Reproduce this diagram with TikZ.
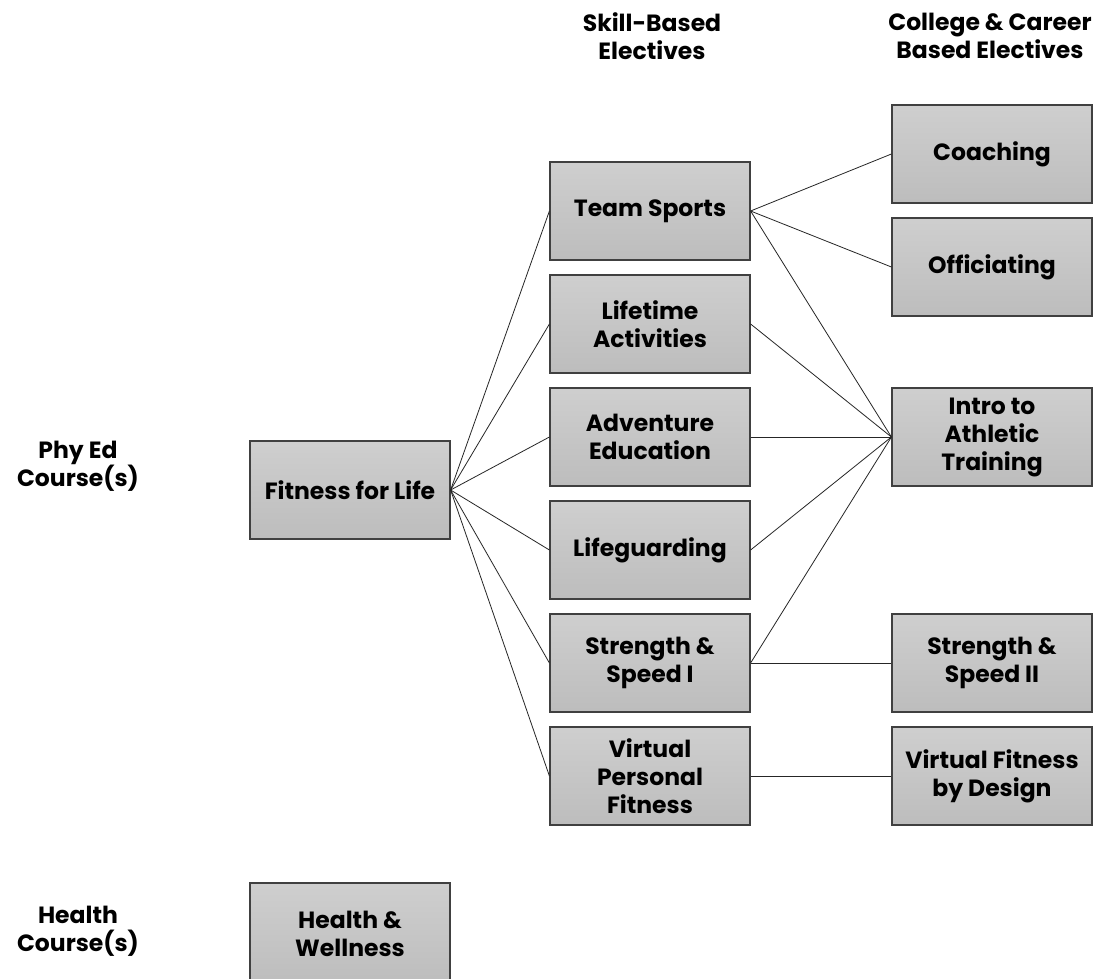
\documentclass[tikz,border=0pt]{standalone}
\usepackage{fontspec}
\setmainfont{Poppins}
\begin{document}
\begin{tikzpicture}[x=1pt,y=-1pt,
  box/.style={draw=black!75, line width=1.2pt, top color=black!19, bottom color=black!26,
    minimum width=200pt, minimum height=98pt, inner sep=2pt, align=center,
    font=\fontsize{23.5}{28}\selectfont\bfseries},
  hdr/.style={align=center, font=\fontsize{23.5}{28}\selectfont\bfseries},
  con/.style={draw=black!85, line width=0.8pt}]
\clip (0,0) rectangle (1109,979);
\fill[white] (0,0) rectangle (1109,979);
% headers
\node[hdr] (hskill) at (652,36) {Skill-Based\\Electives};
\node[hdr] (hcol) at (990,36) {College \& Career\\Based Electives};
\node[hdr] (lphy) at (78,466) {Phy Ed\\Course(s)};
\node[hdr] (lhealth) at (78,931) {Health\\Course(s)};
% left column
\node[box] (fit) at (350,490) {Fitness for Life};
\node[box, minimum height=102pt] (hw) at (350,934) {Health \&\\Wellness};
% skill column
\node[box] (team) at (650,211) {Team Sports};
\node[box] (life) at (650,324) {Lifetime\\Activities};
\node[box] (adv) at (650,437) {Adventure\\Education};
\node[box] (guard) at (650,550) {Lifeguarding};
\node[box] (str) at (650,663) {Strength \&\\Speed I};
\node[box] (vir) at (650,776) {Virtual\\Personal\\Fitness};
% college column
\node[box] (coach) at (992,154) {Coaching};
\node[box] (off) at (992,267) {Officiating};
\node[box] (intro) at (992,437) {Intro to\\Athletic\\Training};
\node[box] (str2) at (992,663) {Strength \&\\Speed II};
\node[box] (vfd) at (992,776) {Virtual Fitness\\by Design};
% connectors
\foreach \t in {team,life,adv,guard,str,vir}
  \draw[con] (fit.east) -- (\t.west);
\draw[con] (team.east) -- (coach.west);
\draw[con] (team.east) -- (off.west);
\foreach \s in {team,life,adv,guard,str}
  \draw[con] (\s.east) -- (intro.west);
\draw[con] (str.east) -- (str2.west);
\draw[con] (vir.east) -- (vfd.west);
\end{tikzpicture}
\end{document}
